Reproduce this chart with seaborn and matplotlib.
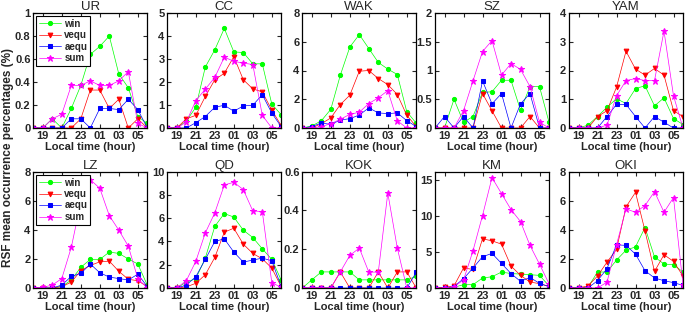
import numpy as np
import matplotlib
matplotlib.use("Agg")
import matplotlib.pyplot as plt
from matplotlib.ticker import FuncFormatter
import seaborn as sns

# Local hours 18..30 (25 = 01 next day)
hours = list(range(18, 31))
tick_hours = [19, 21, 23, 25, 27, 29]
tick_labels = ["19", "21", "23", "01", "03", "05"]
series = ["win", "vequ", "aequ", "sum"]

# values, one dict per station
UR = {
    "win":  [0, 0, 0.08, 0, 0.17, 0.37, 0.64, 0.71, 0.80, 0.47, 0.35, 0.10, 0.04],
    "vequ": [0, 0, 0, 0, 0, 0.08, 0.33, 0.33, 0.17, 0.25, 0, 0.08, 0],
    "aequ": [0, 0, 0, 0, 0.08, 0.08, 0, 0.17, 0.17, 0.16, 0.25, 0.16, 0],
    "sum":  [0, 0, 0.08, 0.12, 0.37, 0.37, 0.41, 0.37, 0.37, 0.41, 0.49, 0.04, 0],
}
CC = {
    "win":  [0, 0, 0.3, 0.9, 2.65, 3.4, 4.33, 3.31, 3.28, 2.79, 2.79, 1.04, 0.57],
    "vequ": [0, 0, 0.4, 0.55, 1.37, 2.1, 2.38, 3.1, 2.1, 1.7, 1.57, 0.78, 0.1],
    "aequ": [0, 0, 0, 0.23, 0.5, 0.9, 0.99, 0.73, 0.96, 0.99, 1.45, 0.65, 0.05],
    "sum":  [0, 0, 0.26, 1.19, 1.69, 2.2, 3.08, 2.9, 2.82, 2.76, 0.55, 0, 0],
}
WAK = {
    "win":  [0, 0.14, 0.5, 1.3, 3.67, 5.63, 6.5, 5.53, 4.56, 4.1, 3.72, 1.13, 0.33],
    "vequ": [0, 0, 0.3, 0.7, 1.63, 2.28, 3.95, 4.0, 3.44, 3.02, 2.33, 0.88, 0.1],
    "aequ": [0, 0.1, 0.35, 0.25, 0.55, 0.65, 0.9, 1.4, 1.05, 1.0, 1.05, 0.51, 0.1],
    "sum":  [0, 0, 0.1, 0.3, 0.6, 0.95, 1.1, 1.7, 2.1, 2.6, 0.5, 0, 0],
}
SZ = {
    "win":  [0, 0, 0.5, 0.1, 0.2, 0.62, 0.63, 0.83, 0.83, 0.31, 0.72, 0.72, 0.1],
    "vequ": [0, 0, 0, 0, 0, 0.6, 0.3, 0, 0, 0, 0.2, 0, 0],
    "aequ": [0, 0.2, 0, 0.2, 0, 0.82, 0.42, 0.6, 0, 0.42, 0.6, 0, 0],
    "sum":  [0, 0, 0, 0.3, 0.82, 1.33, 1.52, 0.92, 1.12, 1.02, 0.72, 0.1, 0],
}
YAM = {
    "win":  [0, 0, 0.1, 0.4, 0.72, 1.02, 0.85, 1.37, 1.47, 0.77, 1.05, 0.33, 0.12],
    "vequ": [0, 0, 0, 0.4, 0.6, 1.42, 2.67, 2.05, 1.84, 2.07, 1.84, 0.6, 0.4],
    "aequ": [0, 0, 0, 0, 0.4, 0.82, 0.82, 0.4, 0, 0.4, 0.2, 0, 0],
    "sum":  [0, 0, 0, 0, 0.1, 1.12, 1.65, 1.72, 1.65, 1.65, 3.37, 1.12, 0],
}
LZ = {
    "win":  [0, 0, 0, 0.1, 0.55, 1.42, 1.97, 1.97, 2.47, 2.38, 2.0, 1.65, 0.2],
    "vequ": [0, 0, 0, 0.1, 0.4, 1.2, 1.55, 1.8, 1.85, 1.15, 0.6, 0.5, 0.1],
    "aequ": [0, 0, 0, 0.2, 0.8, 1.0, 1.65, 1.05, 0.75, 0.65, 0.55, 0.95, 0.1],
    "sum":  [0, 0.05, 0.2, 0.65, 2.8, 5.9, 7.45, 6.86, 4.98, 3.98, 2.88, 0.65, 0],
}
QD = {
    "win":  [0, 0, 0.5, 0.8, 2.57, 5.3, 6.4, 6.1, 4.97, 4.34, 3.37, 2.46, 0.66],
    "vequ": [0, 0, 0.1, 0.4, 1.14, 2.63, 4.8, 5.14, 3.77, 2.97, 2.51, 1.71, 0.1],
    "aequ": [0, 0, 0.25, 0.97, 2.46, 4.0, 4.23, 3.09, 2.23, 2.4, 2.57, 2.34, 0.1],
    "sum":  [0, 0, 0.63, 2.29, 4.74, 6.46, 8.86, 9.09, 8.46, 6.63, 6.57, 0.46, 0.05],
}
KOK = {
    "win":  [0, 0.042, 0.083, 0.083, 0.083, 0.083, 0.042, 0.042, 0.042, 0.042, 0.042, 0.042, 0.06],
    "vequ": [0, 0, 0, 0, 0.083, 0, 0, 0, 0.083, 0, 0.083, 0.083, 0],
    "aequ": [0, 0, 0, 0, 0, 0, 0, 0, 0, 0, 0, 0, 0.081],
    "sum":  [0, 0, 0, 0, 0.083, 0.168, 0.206, 0.082, 0.082, 0.49, 0.206, 0, 0],
}
KM = {
    "win":  [0, 0, 0.1, 0.46, 0.46, 1.38, 1.56, 2.2, 2.0, 1.93, 1.84, 1.75, 0.3],
    "vequ": [0, 0.1, 0.3, 2.76, 2.58, 6.81, 6.53, 6.07, 3.04, 1.75, 0.83, 0.6, 0.2],
    "aequ": [0, 0, 0.2, 1.29, 2.76, 4.33, 4.79, 3.4, 2.0, 0.92, 1.47, 0.64, 0.2],
    "sum":  [0, 0, 0.2, 1.1, 5.15, 10.03, 15.28, 13.07, 10.86, 9.2, 5.89, 3.31, 0.6],
}
OKI = {
    "win":  [0, 0, 0.05, 1.1, 1.1, 1.92, 2.6, 2.83, 4.16, 2.14, 1.65, 1.6, 1.1],
    "vequ": [0, 0, 0.15, 0.82, 1.78, 2.65, 5.58, 6.58, 3.93, 1.14, 2.29, 1.83, 0.82],
    "aequ": [0, 0, 0, 0.5, 1.33, 2.97, 2.93, 2.33, 1.19, 0.69, 0.5, 0.37, 0.18],
    "sum":  [0, 0, 0, 0, 0.4, 2.97, 5.44, 5.21, 5.67, 6.63, 5.21, 6.22, 0.23],
}

stations = [("UR", UR), ("CC", CC), ("WAK", WAK), ("SZ", SZ), ("YAM", YAM),
            ("LZ", LZ), ("QD", QD), ("KOK", KOK), ("KM", KM), ("OKI", OKI)]
ylims = {"UR": (1, 0.2), "CC": (5, 1), "WAK": (8, 2), "SZ": (2, 0.5), "YAM": (4, 1),
         "LZ": (8, 2), "QD": (10, 2), "KOK": (0.6, 0.2), "KM": (16.1, 5), "OKI": (8, 2)}

colors = {"win": "#00ff00", "vequ": "#ff0000", "aequ": "#0000ff", "sum": "#ff00ff"}
markers = {"win": "o", "vequ": "v", "aequ": "s", "sum": "*"}
msizes = {"win": 3.0, "vequ": 3.4, "aequ": 3.0, "sum": 4.8}

sns.set_theme(style="ticks")
plt.rcParams["font.family"] = ["Liberation Sans", "DejaVu Sans"]
plt.rcParams["font.weight"] = "bold"

fig = plt.figure(figsize=(6.85, 3.15), dpi=100)
lefts = [33.3, 167.3, 302.3, 435, 569]
W, H = 685, 315
rows = [(13, 128), (171.7, 288)]

fmt = FuncFormatter(lambda v, p: f"{v:g}")

for i, (name, d) in enumerate(stations):
    r, c = divmod(i, 5)
    top, bot = rows[r]
    ax = fig.add_axes([lefts[c] / W, 1 - bot / H, 114 / W, (bot - top) / H])
    for s in series:
        sns.lineplot(x=hours, y=d[s], ax=ax, color=colors[s], marker=markers[s],
                     markersize=msizes[s], markeredgecolor=colors[s], linewidth=0.5,
                     label=s, legend=False)
    ymax, step = ylims[name]
    ax.set_xlim(18, 30)
    ax.set_ylim(0, ymax)
    ax.set_yticks(np.arange(0, ymax + 1e-9, step))
    ax.yaxis.set_major_formatter(fmt)
    ax.set_xticks(tick_hours)
    ax.set_xticklabels(tick_labels)
    ax.tick_params(direction="in", length=3, width=0.8, labelsize=8, pad=2,
                   top=True, right=True)
    for sp in ax.spines.values():
        sp.set_linewidth(0.9)
        sp.set_color("black")
    ax.set_title(name, fontsize=9.5, fontweight="normal", pad=2)
    ax.set_xlabel("Local time (hour)", fontsize=8, fontweight="bold", labelpad=1)
    ax.set_ylabel("")
    if name in ("UR", "LZ"):
        leg = ax.legend(loc="upper left", fontsize=7, frameon=True, fancybox=False,
                        edgecolor="black", framealpha=1, handlelength=2.2,
                        borderpad=0.3, labelspacing=0.15, handletextpad=0.4,
                        borderaxespad=0.3)
        leg.get_frame().set_linewidth(0.8)
        for t in leg.get_texts():
            t.set_fontweight("bold")

fig.text(0.012, 0.5, "RSF mean occurrence percentages (%)", rotation=90,
         ha="center", va="center", fontsize=8.5, fontweight="bold")

fig.savefig("out.png", dpi=100)
